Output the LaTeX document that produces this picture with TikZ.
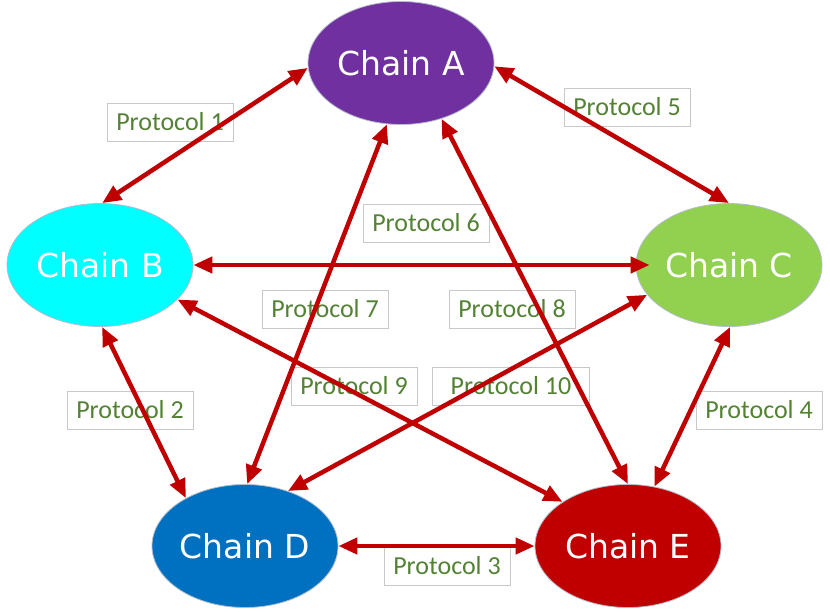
\documentclass[tikz,border=0pt]{standalone}
\usepackage{fontspec}
\newfontfamily\chainfont{DejaVu Sans}
\newfontfamily\protofont{Carlito}
\usetikzlibrary{shapes.geometric,arrows.meta}
\definecolor{cA}{HTML}{7030A0}
\definecolor{cB}{HTML}{00FFFF}
\definecolor{cC}{HTML}{92D050}
\definecolor{cD}{HTML}{0070C0}
\definecolor{cE}{HTML}{C00000}
\definecolor{arrowred}{HTML}{C00000}
\definecolor{protogreen}{HTML}{548235}
\definecolor{boxgray}{HTML}{C8C8C8}
\definecolor{rimgray}{HTML}{B4BCCC}
\tikzset{
  chain/.style={ellipse, minimum width=186pt, minimum height=123pt, inner sep=0pt,
    draw=rimgray, line width=0.8pt, text=white,
    font=\chainfont\fontsize{33}{38}\selectfont},
  proto/.style={rectangle, minimum width=126pt, minimum height=38pt, inner sep=0pt,
    draw=boxgray, line width=1pt, text=protogreen,
    font=\protofont\fontsize{26}{30}\selectfont},
  link/.style={draw=arrowred, line width=4.5pt,
    {Triangle[length=19pt,width=16pt]}-{Triangle[length=19pt,width=16pt]}}
}
\begin{document}
\begin{tikzpicture}[x=1pt,y=-1pt]
\useasboundingbox (0,0) rectangle (830,611);
% chains
\node[chain, fill=cA] (A) at (401,63) {Chain A};
\node[chain, fill=cB] (B) at (100,265) {Chain B};
\node[chain, fill=cC] (C) at (729,265) {Chain C};
\node[chain, fill=cD] (D) at (245,546) {Chain D};
\node[chain, fill=cE] (E) at (628,546) {Chain E};
% labels
\node[proto] (p1) at (170,122) {Protocol 1};
\node[proto] (p2) at (130,410) {Protocol 2};
\node[proto] (p3) at (447,566) {Protocol 3};
\node[proto] (p4) at (759,410) {Protocol 4};
\node[proto] (p5) at (627,107) {Protocol 5};
\node[proto] (p6) at (426,223) {Protocol 6};
\node[proto] (p7) at (325,309) {Protocol 7};
\node[proto] (p8) at (512,309) {Protocol 8};
\node[proto] (p9) at (354,386) {Protocol 9};
\node[proto, minimum width=157pt] (p10) at (511,386) {Protocol 10};
% links
\coordinate (Cin) at ([xshift=14pt]C.west);
\draw[link] (A.183) -- (B.88);
\draw[link] (A.-2) -- (C.90);
\draw[link] (B.east) -- (Cin);
\draw[link] (A.257) -- (D.88);
\draw[link] (A.-54) -- (E.90);
\draw[link] (B.-24) -- (E.146);
\draw[link] (C.200) -- (D.52);
\draw[link] (B.-88) -- (D.141);
\draw[link] (C.271) -- (E.66);
\draw[link] (D.east) -- (E.west);
\end{tikzpicture}
\end{document}
